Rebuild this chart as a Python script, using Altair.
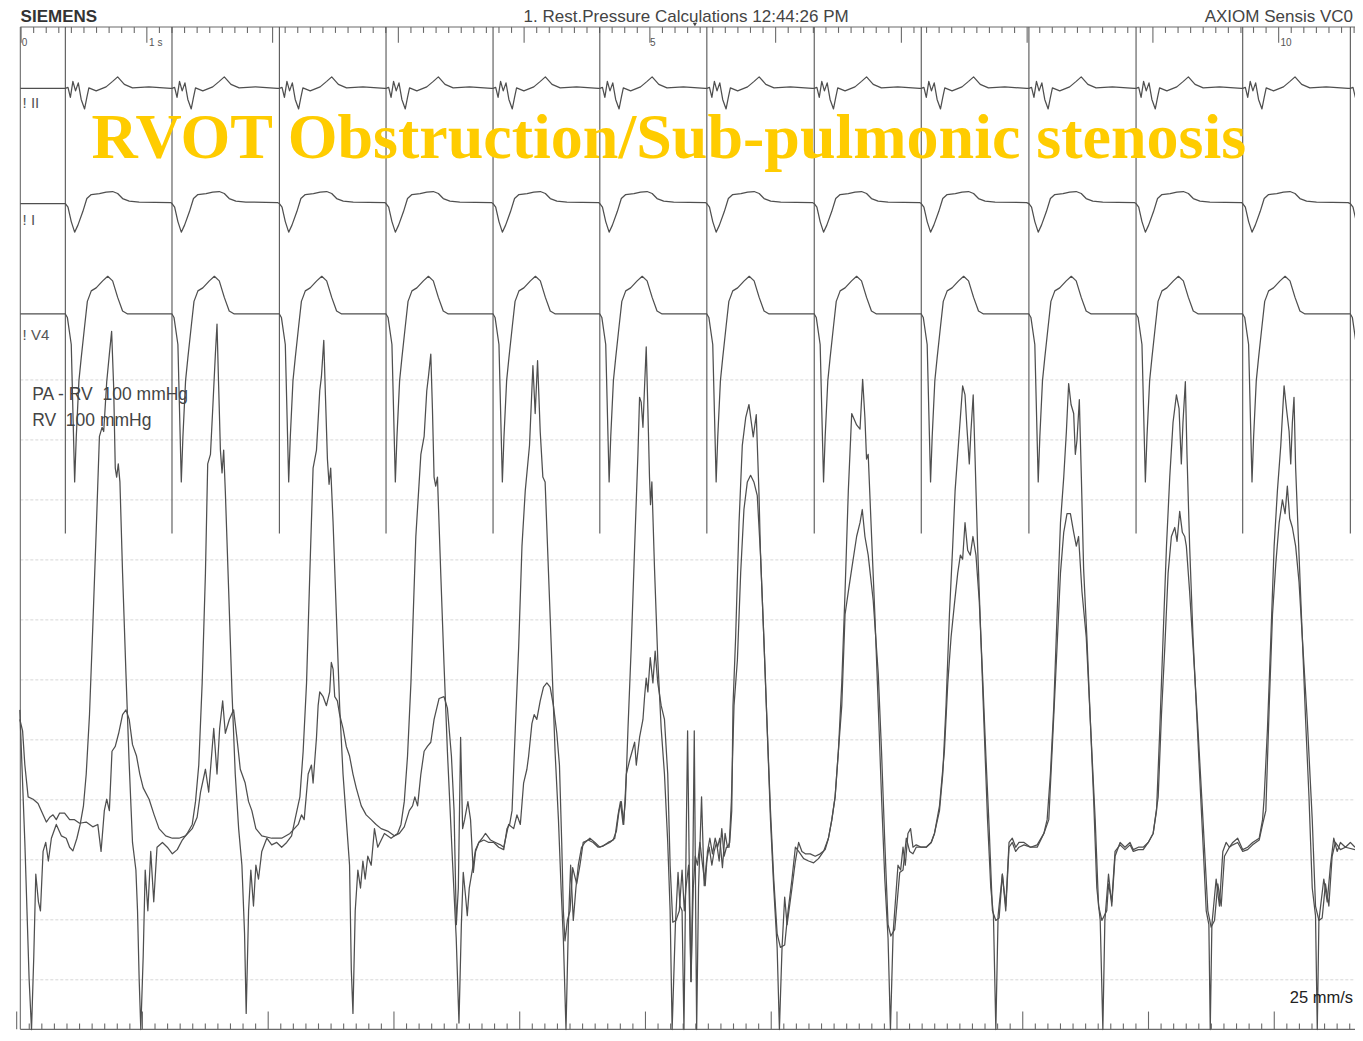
import altair as alt
import pandas as pd

# ---------------- data read from the recording ----------------
# time in seconds (25 mm/s paper), pressure in mmHg, ECG in mV
beat_times = [0.352, 1.200, 2.054, 2.902, 3.753, 4.602, 5.453, 6.307,
              7.158, 8.014, 8.866, 9.714, 10.570]

# one ECG complex per lead (offset from the beat marker, s / amplitude, mV)
ecg_ii_dt = [0.000, 0.021, 0.040, 0.060, 0.081, 0.103, 0.126, 0.153, 0.171,
             0.187, 0.245, 0.324, 0.376, 0.416, 0.469, 0.534, 0.664, 0.838]
ecg_ii_mv = [0.00, 0.02, -0.18, 0.14, -0.05, 0.11, -0.22, -0.41, -0.18,
             0.01, -0.05, 0.03, 0.14, 0.23, 0.08, 0.01, 0.03, 0.00]
ecg_i_dt = [0.000, 0.021, 0.047, 0.074, 0.100, 0.139, 0.171, 0.206, 0.271,
            0.324, 0.376, 0.416, 0.455, 0.508, 0.587, 0.838]
ecg_i_mv = [0.00, -0.07, -0.36, -0.57, -0.43, -0.16, 0.10, 0.18, 0.20,
            0.23, 0.24, 0.20, 0.10, 0.05, 0.03, 0.02]
ecg_v4_dt = [0.000, 0.016, 0.047, 0.074, 0.087, 0.108, 0.126, 0.153, 0.175,
             0.187, 0.206, 0.245, 0.297, 0.337, 0.376, 0.416, 0.455, 0.495, 0.838]
ecg_v4_mv = [0.00, -0.07, -0.61, -3.35, -2.44, -1.33, -0.88, -0.25, 0.25,
             0.33, 0.46, 0.52, 0.66, 0.75, 0.66, 0.33, 0.06, 0.00, 0.00]

# pressure channel 1: PA - RV pull-back catheter (t s, mmHg)
pa_rv_trace = [
    (-0.010, 53.4), (0.012, 51.5), (0.030, 45.8), (0.056, 40.5), (0.096, 40.1), (0.135, 39.4),
    (0.175, 37.5), (0.201, 36.3), (0.228, 37.1), (0.254, 37.5), (0.280, 36.7), (0.307, 37.8),
    (0.346, 37.8), (0.386, 36.7), (0.425, 36.7), (0.465, 36.1), (0.518, 36.3), (0.570, 35.5),
    (0.610, 35.9), (0.636, 31.4), (0.662, 38.2), (0.681, 40.1), (0.702, 38.2), (0.723, 48.1),
    (0.749, 48.9), (0.776, 51.1), (0.807, 54.2), (0.834, 55.0), (0.860, 53.4), (0.886, 49.2),
    (0.918, 47.3), (0.944, 44.3), (0.971, 42.0), (1.018, 40.1), (1.058, 37.5), (1.097, 35.2),
    (1.150, 34.0), (1.203, 33.6), (1.255, 33.6), (1.308, 34.0), (1.361, 35.2), (1.400, 37.1),
    (1.427, 41.3), (1.466, 45.1), (1.492, 41.3), (1.532, 51.9), (1.558, 44.3), (1.579, 51.9),
    (1.603, 56.5), (1.624, 51.1), (1.656, 53.4), (1.690, 55.0), (1.716, 50.4), (1.743, 45.1),
    (1.782, 42.8), (1.809, 39.7), (1.835, 38.2), (1.867, 35.2), (1.914, 34.0), (1.993, 33.6),
    (2.072, 33.6), (2.138, 34.4), (2.204, 35.9), (2.230, 37.5), (2.251, 36.7), (2.283, 44.3),
    (2.309, 45.8), (2.322, 42.8), (2.349, 50.4), (2.362, 55.7), (2.375, 58.0), (2.402, 57.2),
    (2.428, 55.7), (2.454, 58.0), (2.467, 62.9), (2.481, 61.8), (2.494, 57.2), (2.515, 56.5),
    (2.533, 54.2), (2.560, 51.9), (2.586, 48.9), (2.612, 47.3), (2.639, 44.3), (2.665, 42.0),
    (2.705, 39.0), (2.744, 37.5), (2.784, 36.7), (2.823, 35.9), (2.863, 35.2), (2.915, 34.8),
    (2.968, 34.0), (3.008, 34.4), (3.047, 35.5), (3.087, 38.2), (3.113, 39.0), (3.131, 40.5),
    (3.153, 39.0), (3.179, 44.3), (3.205, 48.1), (3.231, 48.9), (3.258, 49.6), (3.284, 53.4),
    (3.324, 56.9), (3.363, 57.2), (3.390, 55.3), (3.422, 47.3), (3.443, 38.2), (3.461, 19.2),
    (3.477, 25.3), (3.495, 50.4), (3.511, 35.2), (3.527, 36.7), (3.553, 39.7), (3.574, 36.7),
    (3.596, 27.9), (3.614, 31.4), (3.640, 32.9), (3.667, 33.6), (3.693, 34.4), (3.733, 33.3),
    (3.772, 32.9), (3.812, 32.5), (3.838, 32.1), (3.877, 35.9), (3.917, 35.2), (3.943, 37.5),
    (3.970, 35.9), (3.996, 42.8), (4.022, 45.1), (4.036, 47.3), (4.062, 52.7), (4.080, 54.2),
    (4.101, 53.4), (4.128, 56.5), (4.154, 58.8), (4.181, 59.5), (4.207, 58.8), (4.233, 55.7),
    (4.260, 51.1), (4.281, 45.8), (4.299, 32.9), (4.312, 21.5), (4.325, 16.5), (4.344, 19.9),
    (4.365, 21.5), (4.386, 28.7), (4.418, 26.0), (4.444, 29.1), (4.470, 32.9), (4.510, 33.3),
    (4.549, 32.9), (4.589, 32.1), (4.628, 32.3), (4.668, 32.9), (4.708, 33.3), (4.734, 34.8),
    (4.755, 38.2), (4.773, 39.7), (4.792, 35.9), (4.813, 44.3), (4.839, 46.6), (4.879, 49.6),
    (4.892, 45.8), (4.918, 50.4), (4.945, 53.4), (4.958, 57.2), (4.971, 60.3), (4.984, 58.0),
    (5.003, 63.7), (5.024, 59.5), (5.042, 64.8), (5.063, 59.5), (5.090, 55.7), (5.116, 53.4),
    (5.142, 44.3), (5.161, 29.1), (5.182, 19.6), (5.208, 19.9), (5.234, 21.5), (5.256, 28.3),
    (5.274, 21.5), (5.287, 25.3), (5.308, 29.1), (5.327, 9.7), (5.340, 25.3), (5.353, 51.5),
    (5.372, 1.7), (5.387, 25.3), (5.411, 40.5), (5.432, 25.7), (5.451, 29.8), (5.472, 32.1),
    (5.493, 29.1), (5.511, 31.4), (5.530, 32.9), (5.551, 29.8), (5.572, 35.2), (5.590, 30.6),
    (5.609, 32.1), (5.630, 32.1), (5.648, 39.7), (5.669, 55.7), (5.696, 63.3), (5.722, 77.8),
    (5.748, 88.4), (5.775, 93.0), (5.801, 94.1), (5.827, 93.0), (5.854, 90.7), (5.880, 80.8),
    (5.906, 67.1), (5.933, 51.9), (5.959, 38.2), (5.985, 26.8), (6.012, 17.7), (6.038, 15.4),
    (6.072, 15.8), (6.099, 21.5), (6.130, 26.8), (6.157, 32.1), (6.183, 31.4), (6.223, 30.2),
    (6.262, 29.8), (6.302, 29.5), (6.341, 30.2), (6.381, 31.4), (6.420, 33.6), (6.447, 36.7),
    (6.473, 40.5), (6.499, 48.1), (6.526, 55.7), (6.552, 70.9), (6.578, 74.7), (6.605, 78.5),
    (6.644, 83.9), (6.671, 86.2), (6.689, 88.4), (6.710, 83.9), (6.736, 80.8), (6.776, 73.2),
    (6.816, 61.0), (6.842, 48.1), (6.868, 32.9), (6.894, 19.2), (6.916, 17.3), (6.947, 18.4),
    (6.987, 27.9), (7.013, 28.3), (7.039, 33.6), (7.066, 31.4), (7.092, 31.0), (7.118, 32.1),
    (7.158, 32.1), (7.197, 32.1), (7.237, 32.9), (7.263, 34.4), (7.303, 39.0), (7.342, 48.1),
    (7.369, 59.5), (7.395, 67.1), (7.421, 72.5), (7.448, 77.8), (7.469, 80.8), (7.487, 80.1),
    (7.506, 86.2), (7.527, 81.6), (7.548, 80.8), (7.569, 83.9), (7.593, 80.8), (7.619, 73.2),
    (7.645, 61.0), (7.672, 47.3), (7.698, 35.2), (7.724, 21.5), (7.751, 19.9), (7.777, 20.3),
    (7.803, 27.6), (7.830, 21.5), (7.856, 32.1), (7.882, 32.9), (7.909, 31.4), (7.935, 32.1),
    (7.975, 32.5), (8.027, 32.1), (8.080, 32.1), (8.133, 34.4), (8.172, 36.7), (8.207, 51.9),
    (8.238, 65.6), (8.265, 77.8), (8.291, 84.6), (8.317, 87.7), (8.344, 87.7), (8.370, 84.6),
    (8.391, 82.3), (8.409, 83.9), (8.436, 74.7), (8.470, 67.1), (8.502, 53.4), (8.541, 36.7),
    (8.568, 22.3), (8.594, 19.9), (8.633, 21.5), (8.647, 26.0), (8.673, 23.0), (8.699, 31.4),
    (8.739, 32.5), (8.778, 31.7), (8.818, 32.5), (8.844, 31.4), (8.884, 31.7), (8.923, 31.7),
    (8.963, 32.9), (9.002, 34.4), (9.042, 40.5), (9.068, 54.2), (9.095, 65.6), (9.121, 77.8),
    (9.147, 83.9), (9.174, 85.4), (9.192, 83.1), (9.213, 88.1), (9.234, 84.6), (9.253, 83.9),
    (9.266, 82.3), (9.292, 74.7), (9.319, 65.6), (9.358, 51.9), (9.398, 36.7), (9.437, 21.5),
    (9.463, 18.8), (9.490, 19.9), (9.516, 26.0), (9.543, 22.3), (9.569, 30.6), (9.608, 32.1),
    (9.635, 32.5), (9.674, 32.9), (9.714, 31.4), (9.753, 31.7), (9.793, 32.5), (9.845, 33.3),
    (9.872, 35.9), (9.898, 38.2), (9.925, 55.7), (9.951, 70.9), (9.977, 79.3), (10.004, 86.2),
    (10.030, 90.0), (10.051, 87.7), (10.069, 92.3), (10.088, 86.9), (10.109, 85.4), (10.135, 82.3),
    (10.162, 76.3), (10.188, 67.1), (10.227, 53.4), (10.267, 36.7), (10.293, 22.3), (10.320, 19.9),
    (10.346, 20.3), (10.372, 26.0), (10.399, 22.3), (10.425, 30.6), (10.451, 32.9), (10.491, 31.7),
    (10.531, 32.1), (10.607, 31.7),
]

# pressure channel 2: RV catheter (t s, mmHg)
rv_trace = [
    (-0.010, 55.0), (0.030, 32.9), (0.064, 10.1), (0.083, 1.7), (0.101, 13.9), (0.117, 27.6),
    (0.138, 23.0), (0.154, 21.5), (0.175, 31.4), (0.196, 32.9), (0.217, 29.8), (0.241, 33.6),
    (0.280, 35.9), (0.320, 34.0), (0.359, 33.6), (0.386, 32.1), (0.412, 31.5), (0.444, 33.6),
    (0.470, 35.9), (0.496, 39.0), (0.518, 44.3), (0.544, 54.2), (0.570, 68.7), (0.597, 84.6),
    (0.623, 100.6), (0.644, 102.1), (0.657, 101.4), (0.681, 109.7), (0.702, 114.3), (0.720, 118.1),
    (0.736, 109.0), (0.749, 95.3), (0.760, 93.8), (0.773, 96.0), (0.786, 93.0), (0.807, 77.8),
    (0.834, 61.0), (0.860, 45.8), (0.886, 32.9), (0.913, 28.3), (0.926, 21.5), (0.939, 10.1),
    (0.952, 1.7), (0.971, 13.9), (0.987, 28.3), (1.008, 21.5), (1.031, 31.4), (1.055, 23.0),
    (1.081, 32.1), (1.124, 32.9), (1.163, 32.1), (1.203, 31.0), (1.242, 31.7), (1.282, 33.3),
    (1.321, 34.4), (1.361, 35.9), (1.387, 39.7), (1.413, 45.8), (1.440, 59.5), (1.466, 77.8),
    (1.484, 96.0), (1.506, 97.6), (1.524, 105.2), (1.545, 114.3), (1.558, 119.3), (1.571, 109.0),
    (1.585, 98.3), (1.598, 94.5), (1.611, 98.3), (1.624, 91.5), (1.651, 74.7), (1.677, 58.0),
    (1.703, 44.3), (1.730, 35.2), (1.756, 29.1), (1.777, 17.7), (1.790, 4.4), (1.809, 21.5),
    (1.827, 28.3), (1.848, 22.3), (1.867, 29.1), (1.888, 26.8), (1.914, 31.4), (1.954, 33.6),
    (1.993, 32.5), (2.033, 32.9), (2.072, 32.1), (2.112, 32.9), (2.151, 34.0), (2.178, 36.7),
    (2.217, 40.5), (2.243, 48.1), (2.270, 59.5), (2.296, 77.8), (2.322, 95.3), (2.349, 98.3),
    (2.375, 108.2), (2.388, 110.5), (2.407, 116.6), (2.420, 107.5), (2.436, 96.8), (2.449, 92.6),
    (2.462, 95.3), (2.481, 86.2), (2.507, 70.9), (2.533, 55.7), (2.560, 44.3), (2.586, 36.7),
    (2.612, 29.1), (2.626, 11.6), (2.639, 4.4), (2.657, 21.5), (2.678, 28.3), (2.699, 25.3),
    (2.718, 29.8), (2.736, 26.8), (2.757, 30.6), (2.784, 29.1), (2.810, 35.2), (2.836, 32.1),
    (2.889, 34.4), (2.942, 33.6), (2.994, 34.4), (3.021, 35.9), (3.047, 39.7), (3.073, 47.3),
    (3.100, 59.5), (3.139, 83.9), (3.179, 97.6), (3.205, 100.6), (3.226, 108.2), (3.239, 110.5),
    (3.258, 114.3), (3.271, 105.2), (3.284, 93.8), (3.297, 92.3), (3.311, 93.8), (3.337, 77.8),
    (3.363, 62.6), (3.390, 48.1), (3.430, 30.0), (3.460, 17.0), (3.482, 2.8), (3.501, 19.2),
    (3.516, 27.9), (3.535, 23.8), (3.548, 20.7), (3.564, 25.3), (3.588, 28.3), (3.614, 31.7),
    (3.640, 32.9), (3.680, 33.3), (3.719, 32.9), (3.759, 32.9), (3.798, 32.1), (3.838, 31.7),
    (3.864, 35.2), (3.885, 35.9), (3.904, 38.2), (3.930, 51.9), (3.957, 65.6), (3.983, 82.3),
    (4.009, 91.5), (4.043, 99.1), (4.070, 112.4), (4.088, 104.4), (4.107, 113.2), (4.128, 101.4),
    (4.149, 93.8), (4.167, 93.0), (4.194, 77.8), (4.220, 63.3), (4.246, 48.1), (4.273, 36.7),
    (4.294, 25.3), (4.312, 16.9), (4.333, 1.7), (4.352, 19.2), (4.370, 29.1), (4.391, 19.9),
    (4.412, 25.3), (4.431, 29.1), (4.457, 32.1), (4.484, 32.9), (4.523, 33.6), (4.563, 32.9),
    (4.602, 32.1), (4.642, 32.5), (4.681, 32.9), (4.721, 33.6), (4.747, 37.5), (4.766, 39.7),
    (4.787, 35.9), (4.805, 39.7), (4.826, 51.9), (4.852, 65.6), (4.879, 82.3), (4.905, 97.6),
    (4.918, 107.1), (4.931, 106.3), (4.945, 102.1), (4.958, 109.0), (4.971, 115.5), (4.984, 105.2),
    (4.997, 93.8), (5.005, 89.2), (5.016, 93.0), (5.037, 78.5), (5.063, 63.3), (5.090, 51.9),
    (5.116, 44.3), (5.142, 32.9), (5.161, 21.5), (5.177, 1.7), (5.203, 19.2), (5.224, 27.9),
    (5.240, 22.3), (5.256, 21.5), (5.271, 1.7), (5.287, 30.6), (5.300, 51.5), (5.313, 29.1),
    (5.327, 9.7), (5.345, 25.3), (5.361, 30.6), (5.379, 29.1), (5.398, 32.9), (5.419, 29.1),
    (5.440, 25.7), (5.458, 31.4), (5.477, 33.6), (5.498, 31.0), (5.519, 33.6), (5.538, 32.1),
    (5.556, 33.6), (5.577, 28.7), (5.598, 34.4), (5.617, 32.1), (5.635, 32.9), (5.651, 38.2),
    (5.661, 55.7), (5.682, 67.1), (5.709, 86.2), (5.735, 99.1), (5.762, 103.7), (5.788, 105.9),
    (5.822, 100.5), (5.846, 104.2), (5.867, 91.5), (5.880, 80.8), (5.906, 67.1), (5.933, 51.9),
    (5.959, 36.7), (5.985, 25.3), (6.012, 15.4), (6.030, 1.7), (6.051, 15.4), (6.072, 23.8),
    (6.091, 19.2), (6.130, 25.3), (6.157, 29.8), (6.183, 32.9), (6.209, 31.4), (6.236, 31.0),
    (6.275, 31.0), (6.315, 30.6), (6.354, 31.0), (6.394, 31.7), (6.420, 33.6), (6.447, 36.7),
    (6.473, 40.5), (6.499, 48.1), (6.526, 59.5), (6.552, 74.7), (6.578, 91.5), (6.605, 104.4),
    (6.644, 102.5), (6.671, 101.8), (6.692, 110.1), (6.710, 103.7), (6.723, 96.8), (6.736, 97.6),
    (6.763, 83.9), (6.789, 70.9), (6.816, 55.7), (6.842, 40.5), (6.868, 26.8), (6.894, 16.9),
    (6.913, 1.7), (6.934, 17.7), (6.973, 29.1), (6.994, 28.3), (7.013, 32.1), (7.031, 29.1),
    (7.052, 34.4), (7.073, 35.2), (7.092, 32.1), (7.118, 32.5), (7.158, 32.1), (7.197, 32.1),
    (7.237, 32.9), (7.263, 34.4), (7.303, 38.2), (7.329, 44.3), (7.355, 55.7), (7.382, 70.9),
    (7.408, 82.3), (7.427, 91.5), (7.448, 97.6), (7.474, 105.2), (7.487, 109.0), (7.506, 107.5),
    (7.521, 102.1), (7.540, 96.0), (7.553, 101.4), (7.571, 107.5), (7.585, 97.6), (7.606, 82.3),
    (7.632, 67.1), (7.658, 51.9), (7.685, 36.7), (7.711, 25.3), (7.732, 20.7), (7.751, 1.7),
    (7.769, 20.7), (7.803, 27.6), (7.830, 22.3), (7.856, 32.9), (7.882, 33.6), (7.909, 32.1),
    (7.935, 32.9), (7.975, 32.9), (8.027, 32.1), (8.080, 32.5), (8.133, 34.4), (8.159, 36.7),
    (8.185, 44.3), (8.212, 55.7), (8.238, 70.9), (8.265, 86.2), (8.291, 93.8), (8.312, 101.4),
    (8.330, 109.4), (8.349, 105.9), (8.370, 104.4), (8.383, 97.6), (8.396, 99.9), (8.415, 106.7),
    (8.431, 93.8), (8.449, 78.5), (8.475, 67.1), (8.502, 53.4), (8.528, 40.5), (8.554, 25.3),
    (8.581, 19.9), (8.602, 1.7), (8.618, 19.9), (8.647, 27.6), (8.673, 22.3), (8.699, 30.6),
    (8.739, 32.9), (8.778, 32.1), (8.818, 32.9), (8.844, 31.7), (8.884, 32.1), (8.923, 32.1),
    (8.963, 32.9), (9.002, 34.4), (9.029, 38.2), (9.055, 51.9), (9.081, 67.1), (9.108, 82.3),
    (9.134, 93.8), (9.160, 102.9), (9.187, 107.5), (9.208, 105.2), (9.226, 96.0), (9.239, 102.9),
    (9.258, 109.7), (9.271, 97.6), (9.292, 82.3), (9.319, 67.1), (9.345, 55.7), (9.371, 44.3),
    (9.398, 32.9), (9.424, 21.5), (9.445, 19.2), (9.456, 1.7), (9.469, 19.2), (9.503, 26.8),
    (9.529, 22.3), (9.556, 31.4), (9.582, 32.9), (9.608, 32.1), (9.635, 32.9), (9.674, 33.6),
    (9.714, 31.7), (9.753, 32.1), (9.793, 32.9), (9.845, 33.6), (9.872, 36.7), (9.885, 40.5),
    (9.911, 51.9), (9.938, 67.1), (9.964, 82.3), (9.990, 91.5), (10.017, 99.1), (10.043, 109.0),
    (10.062, 105.2), (10.083, 101.4), (10.096, 96.0), (10.109, 102.9), (10.122, 107.1), (10.135, 95.3),
    (10.162, 80.8), (10.188, 67.1), (10.214, 53.4), (10.241, 40.5), (10.267, 25.3), (10.293, 20.7),
    (10.307, 1.7), (10.320, 19.9), (10.359, 26.8), (10.386, 23.0), (10.412, 29.1), (10.438, 33.6),
    (10.465, 31.4), (10.491, 32.9), (10.531, 32.1), (10.570, 32.9), (10.607, 32.1),
]

grid_mmhg = [10, 20, 30, 40, 50, 60, 70, 80, 90, 100, 110]
ruler_ticks = [round(k * 0.1, 1) for k in range(0, 107)]

lead_labels = ["! II", "! I", "! V4"]
pressure_labels = ["PA - RV\u00a0\u00a0100 mmHg", "RV\u00a0\u00a0100 mmHg"]
ruler_labels = ["0", "1 s", "5", "10"]
header_labels = ["SIEMENS", "1. Rest.Pressure Calculations 12:44:26 PM", "AXIOM Sensis VC0"]
speed_label = "25 mm/s"
title_text = "RVOT Obstruction/Sub-pulmonic stenosis"

# ---------------- layout (vertical positions on the pressure scale) ----------------
T_MIN, T_MAX = -0.104, 10.607
P_MIN, P_MAX = 1.3, 172.0
TRACE_START = -0.006
LEAD_BASE = {"II": 158.6, "I": 139.4, "V4": 121.0}
MV_UNITS = 8.36            # 10 mm/mV on the paper, in pressure-scale units
TOP_RULER, TOP_MINOR, TOP_MAJOR = 168.84, 167.85, 166.2
BOT_RULER, BOT_MINOR, BOT_MAJOR = 1.74, 2.73, 4.71
BOT_SHIFT = -0.035
MARKER_LOW = 84.4
HEADER_P = 169.67
RIGHT_T = 10.591

xs = alt.Scale(domain=[T_MIN, T_MAX], nice=False, zero=False)
ys = alt.Scale(domain=[P_MIN, P_MAX], nice=False, zero=False)

INK = "#4f4f4f"


def rules(rows, color, width, dash=None):
    df = pd.DataFrame(rows, columns=["t1", "t2", "p1", "p2"])
    kw = dict(color=color, strokeWidth=width)
    if dash:
        kw["strokeDash"] = dash
    return alt.Chart(df).mark_rule(**kw).encode(
        x=alt.X("t1:Q", scale=xs, axis=None), x2="t2:Q",
        y=alt.Y("p1:Q", scale=ys, axis=None), y2="p2:Q")


def texts(rows, size, color, font="Liberation Sans", weight="normal",
          align="left", baseline="alphabetic"):
    df = pd.DataFrame(rows, columns=["t", "p", "label"])
    return alt.Chart(df).mark_text(
        fontSize=size, color=color, font=font, fontWeight=weight,
        align=align, baseline=baseline).encode(
        x=alt.X("t:Q", scale=xs, axis=None),
        y=alt.Y("p:Q", scale=ys, axis=None),
        text="label:N")


# gridlines of the pressure field
grid = rules([(TRACE_START, T_MAX, g, g) for g in grid_mmhg], "#d6d6d6", 1, [3, 2])

# frame and time rulers
frame_rows = [(TRACE_START, T_MAX, TOP_RULER, TOP_RULER),
              (TRACE_START, T_MAX, BOT_RULER, BOT_RULER),
              (TRACE_START, TRACE_START, BOT_RULER, TOP_RULER)]
for tk in ruler_ticks:
    major = abs(tk - round(tk)) < 1e-6
    frame_rows.append((tk, tk, TOP_RULER, TOP_MAJOR if major else TOP_MINOR))
    tb = tk + BOT_SHIFT
    frame_rows.append((tb, tb, BOT_RULER, BOT_MAJOR if major else BOT_MINOR))
frame = rules(frame_rows, "#6a6a6a", 1.1)

markers = rules([(b, b, MARKER_LOW, TOP_RULER) for b in beat_times], "#555555", 1.1)

# small event marker on the top ruler
event_mark = alt.Chart(pd.DataFrame({"t": [5.358], "p": [169.25]})).mark_point(
    shape="triangle-down", filled=True, size=18, color="#444444", opacity=1).encode(
    x=alt.X("t:Q", scale=xs, axis=None), y=alt.Y("p:Q", scale=ys, axis=None))

# ECG channels
ecg_rows = []
for lead, dts, mvs in (("II", ecg_ii_dt, ecg_ii_mv), ("I", ecg_i_dt, ecg_i_mv),
                       ("V4", ecg_v4_dt, ecg_v4_mv)):
    base = LEAD_BASE[lead]
    ecg_rows.append((lead, TRACE_START, base))
    for bt in beat_times:
        for dt, mv in zip(dts, mvs):
            ecg_rows.append((lead, round(bt + dt, 4), base + mv * MV_UNITS))
ecg_df = pd.DataFrame(ecg_rows, columns=["trace", "t", "v"])

press_rows = [("PA-RV", t, p) for t, p in pa_rv_trace] + [("RV", t, p) for t, p in rv_trace]
press_df = pd.DataFrame(press_rows, columns=["trace", "t", "v"])


def traces(df):
    return alt.Chart(df).mark_line(color=INK, strokeWidth=1.25, clip=True,
                                   strokeJoin="round").encode(
        x=alt.X("t:Q", scale=xs, axis=None),
        y=alt.Y("v:Q", scale=ys, axis=None),
        detail="trace:N")


ecg = traces(ecg_df)
pressure = traces(press_df)

labels = alt.layer(
    texts([(0.012, 155.3, lead_labels[0]), (0.012, 135.8, lead_labels[1]),
           (0.012, 116.6, lead_labels[2])], 15, "#555555"),
    texts([(0.088, 106.7, pressure_labels[0]), (0.088, 102.4, pressure_labels[1])],
          17.5, "#444444"),
    texts([(0.006, 165.7, ruler_labels[0]), (1.018, 165.7, ruler_labels[1]),
           (5.002, 165.7, ruler_labels[2]), (10.014, 165.7, ruler_labels[3])],
          10, "#555555"),
    texts([(-0.004, HEADER_P, header_labels[0])], 17, "#333333", weight="bold"),
    texts([(3.996, HEADER_P, header_labels[1])], 17, "#444444"),
    texts([(RIGHT_T, HEADER_P, header_labels[2])], 17, "#444444", align="right"),
    texts([(RIGHT_T, 6.08, speed_label)], 16.5, "#222222", align="right"),
)

title = texts([(0.560, 147.0, title_text)], 64, "#FFCC00",
              font="Liberation Serif", weight="bold")

chart = alt.layer(grid, frame, markers, event_mark, ecg, pressure, labels, title).properties(
    width=1347, height=1024,
    autosize=alt.AutoSizeParams(type="none"),
    padding=0,
    background="white",
).configure_view(stroke=None)

chart.save("out.html", embed_options={"renderer": "svg", "actions": False})
